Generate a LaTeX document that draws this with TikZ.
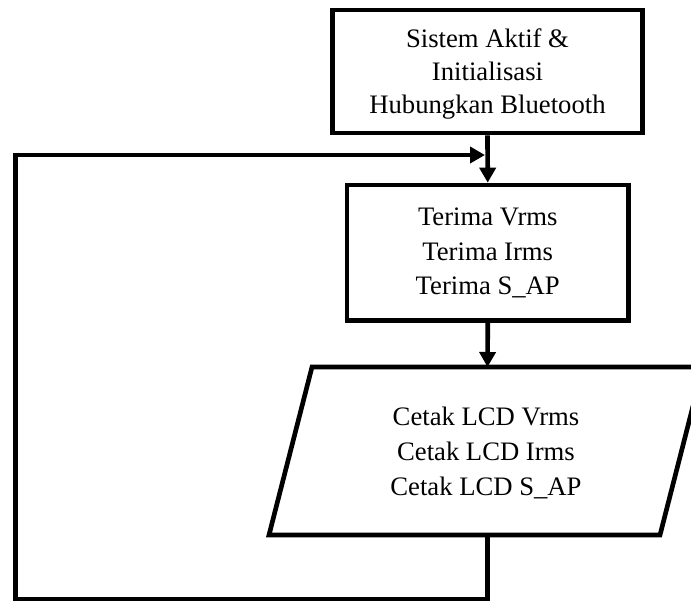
\documentclass[tikz,border=0pt]{standalone}
\usepackage{fontspec}
\setmainfont{Liberation Serif}
\usetikzlibrary{arrows.meta}
\begin{document}
\begin{tikzpicture}[x=0.75pt,y=-0.75pt,
  box/.style={draw, line width=3.5pt, fill=white, align=center, inner sep=0pt, text depth=0pt},
  txt/.style={align=center, inner sep=0pt, text depth=0pt},
  flow/.style={line width=3.5pt, -{Triangle[length=11.25pt,width=12pt]}},
  plain/.style={line width=3.5pt}]
\useasboundingbox (0,0) rectangle (691,601);

% process boxes (text height fixes where the last baseline sits)
\node[box, minimum width=232.5pt, minimum height=92.25pt, text height=62.25pt,
      font=\fontsize{20}{24.75}\selectfont] (init) at (487.5,71.5)
  {Sistem Aktif \&\\Initialisasi\\Hubungkan Bluetooth};
\node[box, minimum width=211.1pt, minimum height=101.6pt, text height=62.3pt,
      font=\fontsize{20}{25.7}\selectfont] (recv) at (487.75,252.75)
  {Terima Vrms\\Terima Irms\\Terima S\_AP};

% output parallelogram
\draw[plain, fill=white] (269,535) -- (312,367) -- (703,367) -- (660,535) -- cycle;
\node[txt, text height=65.25pt, font=\fontsize{20}{26.25}\selectfont] (lcd) at (486,451.5)
  {Cetak LCD Vrms\\Cetak LCD Irms\\Cetak LCD S\_AP};
\coordinate (lcdin) at (487.5,367);
\coordinate (lcdout) at (487.5,535);

% loop return point
\coordinate (join) at (485,155);
\coordinate (loopbl) at (15.5,599);

% connectors
\draw[flow] (init.south) -- (recv.north);
\draw[flow] (recv.south) -- (lcdin);
\draw[flow] (lcdout) |- (loopbl) |- (join);
\end{tikzpicture}
\end{document}
